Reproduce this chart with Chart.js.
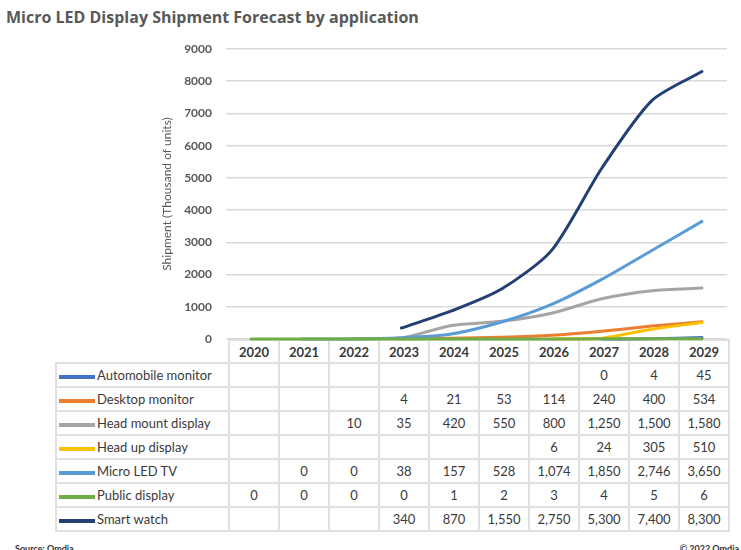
<!DOCTYPE html>
<html lang="en">
<head>
    <meta charset="UTF-8">
    <title>Micro LED Display Shipment Forecast</title>
    <script src="https://cdn.jsdelivr.net/npm/chart.js@4.4.0/dist/chart.umd.min.js"></script>
    <style>
        body { margin: 0; background: #fff; font-family: Lato, "Open Sans", sans-serif; }
        #wrap { position: relative; width: 741px; height: 550px; overflow: hidden; }
        #chart { position: absolute; left: 0; top: 0; z-index: 2; pointer-events: none; }
        .title { position: absolute; left: 6px; top: 6px; font-family: "Open Sans", sans-serif; font-size: 16px;
                 font-weight: bold; color: #595959; }
        .foot { position: absolute; top: 543px; font-size: 9px; font-weight: bold; color: #333; }
        table { position: absolute; left: 55px; top: 339px; border-collapse: collapse; table-layout: fixed;
                font-size: 13px; color: #3a3a3a; z-index: 1; }
        td { border: 2px solid #e0e0e0; text-align: center; padding: 0; width: 48px; white-space: nowrap; }
        thead td { height: 21px; font-weight: bold; }
        tbody td { height: 22px; }
        td.lab { width: 169px; text-align: left; padding-left: 2px; }
        td.blank { border: none; }
        .key { display: inline-block; width: 36px; height: 4px; vertical-align: middle; margin-right: 2px; }
    </style>
</head>
<body>
<div id="wrap">
    <canvas id="chart" width="741" height="550"></canvas>
    <div class="title">Micro LED Display Shipment Forecast by application</div>
    <table id="tbl"></table>
    <div class="foot" style="left:15px">Source: Omdia</div>
    <div class="foot" style="right:2px">© 2022 Omdia</div>
</div>
<script>
    const years = ['2020','2021','2022','2023','2024','2025','2026','2027','2028','2029'];
    const yTicks = [0,1000,2000,3000,4000,5000,6000,7000,8000,9000];

    const automobile = [null,null,null,null,null,null,null,0,4,45];
    const desktop    = [null,null,null,4,21,53,114,240,400,534];
    const headMount  = [null,null,10,35,420,550,800,1250,1500,1580];
    const headUp     = [null,null,null,null,null,null,6,24,305,510];
    const microTv    = [null,0,0,38,157,528,1074,1850,2746,3650];
    const publicDisp = [0,0,0,0,1,2,3,4,5,6];
    const smartWatch = [null,null,null,340,870,1550,2750,5300,7400,8300];

    const series = [
        { name:'Automobile monitor', data:automobile, color:'#4472c4' },
        { name:'Desktop monitor',    data:desktop,    color:'#ed7d31' },
        { name:'Head mount display', data:headMount,  color:'#a5a5a5' },
        { name:'Head up display',    data:headUp,     color:'#ffc000' },
        { name:'Micro LED TV',       data:microTv,    color:'#5b9bd5' },
        { name:'Public display',     data:publicDisp, color:'#70ad47' },
        { name:'Smart watch',        data:smartWatch, color:'#243f73' }
    ];

    // data table under the plot
    let html = '<thead><tr><td class="lab blank"></td>';
    years.forEach(y => html += '<td>' + y + '</td>');
    html += '</tr></thead><tbody>';
    series.forEach(s => {
        html += '<tr><td class="lab"><span class="key" style="background:' + s.color + '"></span>' + s.name + '</td>';
        s.data.forEach(v => html += '<td>' + (v === null ? '' : v.toLocaleString('en-US')) + '</td>');
        html += '</tr>';
    });
    html += '</tbody>';
    document.getElementById('tbl').innerHTML = html;

    let ctx = document.getElementById('chart').getContext('2d');
    new Chart(ctx, {
        type: 'line',
        data: {
            labels: years,
            datasets: series.map((s, i) => ({
                label: s.name,
                data: s.data,
                borderColor: s.color,
                backgroundColor: s.color,
                borderWidth: 3,
                borderCapStyle: 'round',
                borderJoinStyle: 'round',
                pointRadius: 0,
                tension: 0.25,
                clip: false,
                order: series.length - i
            }))
        },
        options: {
            responsive: false,
            animation: false,
            layout: { padding: { left: 160, top: 49, right: 14, bottom: 211 } },
            plugins: { legend: { display: false }, tooltip: { enabled: false } },
            scales: {
                x: { display: false, offset: true },
                y: {
                    min: 0, max: 9000,
                    afterBuildTicks: axis => { axis.ticks = yTicks.map(v => ({ value: v })); },
                    afterFit: axis => { axis.width = 66; },
                    border: { display: false },
                    grid: { color: '#d9d9d9', lineWidth: 1.5, drawTicks: false },
                    ticks: { padding: 14, color: '#595959', callback: v => String(v),
                             font: { family: 'Lato', size: 12, weight: 'bold' } },
                    title: { display: true, text: 'Shipment (Thousand of units)', color: '#595959',
                             font: { family: 'Lato', size: 12 }, padding: 0 }
                }
            }
        }
    });
</script>
</body>
</html>
